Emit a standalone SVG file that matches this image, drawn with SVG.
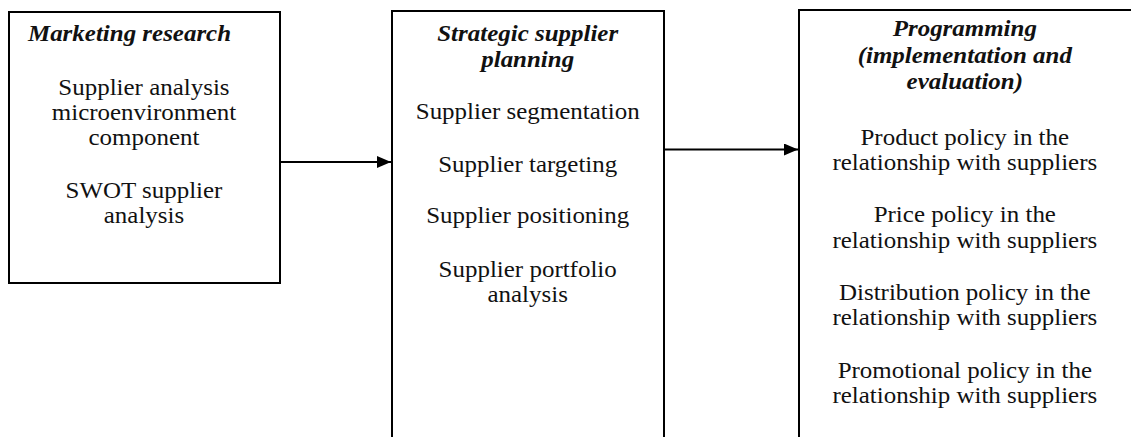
<svg xmlns="http://www.w3.org/2000/svg" width="1131" height="437" viewBox="0 0 1131 437">
<style>
.box{fill:#fff;stroke:#000;stroke-width:2}
.t{font-family:"Liberation Serif","Times New Roman",serif;font-size:22.5px;fill:#111;text-anchor:middle}
.h{font-weight:bold;font-style:italic}
.l{text-anchor:start}
.c{stroke:#000;stroke-width:2;fill:none}
</style>
<defs>
<marker id="ah" viewBox="0 0 14 12" refX="14" refY="6" markerWidth="7" markerHeight="6" markerUnits="strokeWidth" orient="auto">
<path d="M0,0 L14,6 L0,12 z" fill="#000"/>
</marker>
</defs>
<rect width="1131" height="437" fill="#fff"/>
<g id="connectors">
<line class="c" x1="280" y1="162" x2="391" y2="162" marker-end="url(#ah)"/>
<line class="c" x1="664" y1="149.5" x2="798" y2="149.5" marker-end="url(#ah)"/>
</g>
<g id="marketing-research">
<rect class="box" x="9" y="12" width="271" height="271"/>
<g transform="scale(1.11,1)">
<text class="t h l" x="25.2" y="41.5">Marketing research</text>
<text class="t" x="129.7" y="95">Supplier analysis</text>
<text class="t" x="129.7" y="120">microenvironment</text>
<text class="t" x="129.7" y="145">component</text>
<text class="t" x="129.7" y="198">SWOT supplier</text>
<text class="t" x="129.7" y="223">analysis</text>
</g>
</g>
<g id="strategic-planning">
<rect class="box" x="392" y="11" width="272" height="440"/>
<g transform="scale(1.11,1)">
<text class="t h" x="475.4" y="41.5">Strategic supplier</text>
<text class="t h" x="475.4" y="67.5">planning</text>
<text class="t" x="475.4" y="119">Supplier segmentation</text>
<text class="t" x="475.4" y="172">Supplier targeting</text>
<text class="t" x="475.4" y="223">Supplier positioning</text>
<text class="t" x="475.4" y="277">Supplier portfolio</text>
<text class="t" x="475.4" y="302">analysis</text>
</g>
</g>
<g id="programming">
<rect class="box" x="799" y="10" width="350" height="440"/>
<g transform="scale(1.11,1)">
<text class="t h" x="869.2" y="36">Programming</text>
<text class="t h" x="869.2" y="63">(implementation and</text>
<text class="t h" x="869.2" y="89">evaluation)</text>
<text class="t" x="869.2" y="145">Product policy in the</text>
<text class="t" x="869.2" y="170">relationship with suppliers</text>
<text class="t" x="869.2" y="222">Price policy in the</text>
<text class="t" x="869.2" y="248">relationship with suppliers</text>
<text class="t" x="869.2" y="300">Distribution policy in the</text>
<text class="t" x="869.2" y="325">relationship with suppliers</text>
<text class="t" x="869.2" y="378">Promotional policy in the</text>
<text class="t" x="869.2" y="403">relationship with suppliers</text>
</g>
</g>
</svg>
